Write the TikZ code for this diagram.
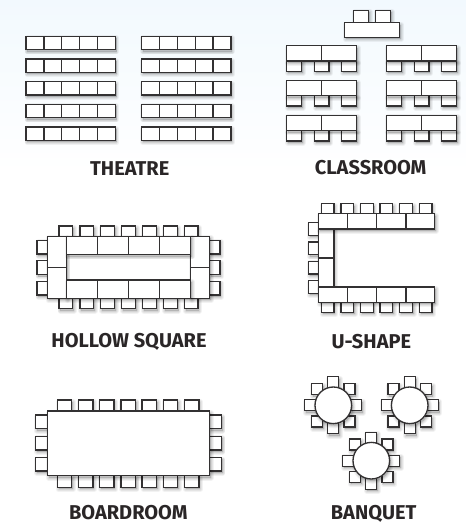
\documentclass[tikz,border=0pt]{standalone}
\usepackage{fontspec}
\setmainfont{Fira Sans}
\usepackage{xcolor}
\usetikzlibrary{positioning}
\definecolor{inkgray}{HTML}{333132}
\definecolor{labelink}{HTML}{2A2627}
\definecolor{skypale}{HTML}{F2F9FE}
\begin{document}
\begin{tikzpicture}[
    x=0.75pt, y=-0.75pt,
    furn/.style={draw=inkgray, fill=white, line width=1pt, line join=miter,
      preaction={draw=black, fill=black, draw opacity=.05, fill opacity=.05, line width=4.2pt, line join=round, transform canvas={xshift=1pt, yshift=-1.5pt}},
      preaction={draw=black, fill=black, draw opacity=.06, fill opacity=.05, line width=2.8pt, line join=round, transform canvas={xshift=1pt, yshift=-1.5pt}},
      preaction={draw=black, fill=black, draw opacity=.07, fill opacity=.05, line width=1.4pt, line join=round, transform canvas={xshift=1pt, yshift=-1.5pt}}},
    part/.style={draw=inkgray, line width=1pt},
    title/.style={font=\fontsize{15}{17}\selectfont\bfseries, text=labelink, inner sep=0pt, anchor=base}
  ]
    \useasboundingbox (0,0) rectangle (466,523);
    \shade[top color=skypale, bottom color=white] (0,0) rectangle (466,172);

    % theatre
    \foreach \rowx in {26,141.7}
      \foreach \rowy in {36.3,59,81.7,104.3,127} {
        \draw[furn] (\rowx,\rowy) rectangle +(89.2,13.4);
        \foreach \i in {1,...,4}
          \draw[part] (\rowx+\i*17.84,\rowy) -- +(0,13.4);
      }
    \node[title] (theatre) at (129.7,175.7) {THEATRE};

    % classroom
    \draw[furn] (353.7,10.3) rectangle (368.7,22.7);
    \draw[furn] (375.7,10.3) rectangle (390.7,22.7);
    \draw[furn] (344.3,22.7) rectangle (399.7,37.3);
    \foreach \rowx in {286.7,386.7}
      \foreach \rowy in {45.7,80.5,115.3} {
        \foreach \i in {0,27.7,55}
          \draw[furn] (\rowx+\i,\rowy+15.3) rectangle +(14.7,10.3);
        \draw[furn] (\rowx,\rowy) rectangle +(69.8,15.3);
        \draw[part] (\rowx+34.8,\rowy) -- +(0,15.3);
      }
    \node[title] (classroom) at (370.7,174.3) {CLASSROOM};

    % hollow square
    \foreach \i in {0,...,6} {
      \draw[furn] (59+\i*20.9,226) rectangle +(13.7,10.3);
      \draw[furn] (59+\i*20.9,298.3) rectangle +(13.7,10.4);
    }
    \foreach \i in {0,1,2} {
      \draw[furn] (37,240.3+\i*20.5) rectangle +(10.3,13.7);
      \draw[furn] (209.7,240.3+\i*20.5) rectangle +(10.3,13.7);
    }
    \draw[furn] (47.3,236.3) rectangle (66.3,298.3);
    \draw[furn] (190.7,236.3) rectangle (209.7,298.3);
    \draw[furn] (66.3,236.3) rectangle (190.7,254.7);
    \draw[furn] (66.3,280) rectangle (190.7,298.3);
    \foreach \i in {97.3,128.3,159.7} {
      \draw[part] (\i,236.3) -- (\i,254.7);
      \draw[part] (\i,280) -- (\i,298.3);
    }
    \draw[part] (47.3,267.3) -- (66.3,267.3);
    \draw[part] (190.7,267.3) -- (209.7,267.3);
    \node[title] (hollow) at (129,347.3) {HOLLOW SQUARE};

    % u-shape
    \foreach \i in {0,...,5} {
      \draw[furn] (321.3+\i*19.6,203.7) rectangle +(12.7,10);
      \draw[furn] (321.3+\i*19.6,302.3) rectangle +(12.7,10);
    }
    \foreach \i in {0,...,3}
      \draw[furn] (308.3,222.7+\i*19.3) rectangle +(10,12.7);
    \draw[furn] (318.3,229) rectangle (334,287);
    \draw[part] (318.3,258) -- (334,258);
    \draw[furn] (318.3,213.7) rectangle (434.7,229);
    \draw[furn] (318.3,287) rectangle (434.7,302.3);
    \foreach \i in {347.7,376.7,406} {
      \draw[part] (\i,213.7) -- (\i,229);
      \draw[part] (\i,287) -- (\i,302.3);
    }
    \node[title] (ushape) at (371.3,348.7) {U-SHAPE};

    % boardroom
    \foreach \i in {0,...,6} {
      \draw[furn] (57.3+\i*21.2,400) rectangle +(14.4,11);
      \draw[furn] (57.3+\i*21.2,475.7) rectangle +(14.4,11.6);
    }
    \foreach \i in {0,1,2} {
      \draw[furn] (35.7,415+\i*21.2) rectangle +(11.6,13.7);
      \draw[furn] (209.7,415+\i*21.2) rectangle +(11.6,13.7);
    }
    \draw[furn] (47.3,411) rectangle (209.7,475.7);
    \node[title] (boardroom) at (128.3,519.5) {BOARDROOM};

    % banquet
    \foreach \cx/\cy in {333.3/405.3,409.7/405.3,371.3/460.7} {
      \foreach \a in {0,45,...,315}
        \draw[furn] ({\cx+23*cos(\a)-5.5},{\cy+23*sin(\a)-5.5}) rectangle +(11,11);
      \draw[furn] (\cx,\cy) circle[radius=18.3];
    }
    \node[title] (banquet) at (373.7,519.5) {BANQUET};
  \end{tikzpicture}
\end{document}
